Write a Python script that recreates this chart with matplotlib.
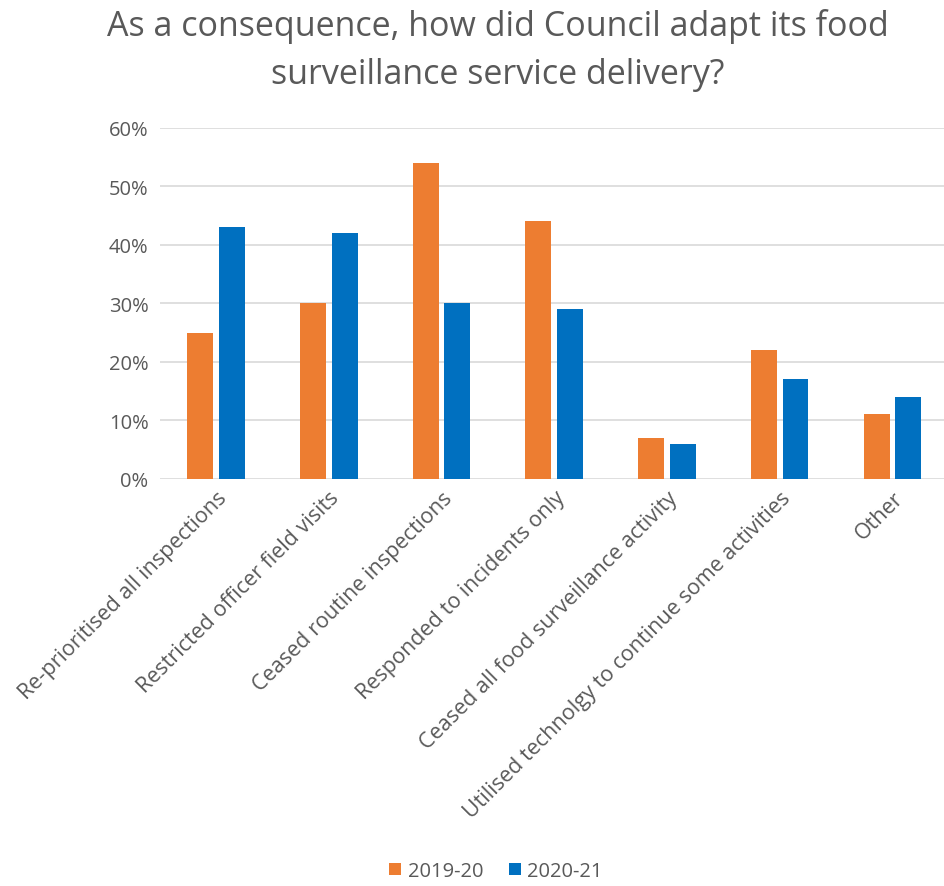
import numpy as np
import matplotlib.pyplot as plt
from matplotlib.ticker import PercentFormatter

plt.rcParams['font.family'] = ['Open Sans', 'DejaVu Sans']

categories = ["Re-prioritised all inspections", "Restricted officer field visits",
              "Ceased routine inspections", "Responded to incidents only",
              "Ceased all food surveillance activity",
              "Utilised technolgy to continue some activities", "Other"]
y2019 = [25, 30, 54, 44, 7, 22, 11]
y2021 = [43, 42, 30, 29, 6, 17, 14]
series = ["2019-20", "2020-21"]

grey = "#595959"
fig = plt.figure(figsize=(9.45, 8.87), dpi=100)
ax = fig.add_axes([0.169, 0.459, 0.835, 0.396])

x = np.arange(len(categories))
w = 0.23
ax.bar(x - 0.14, y2019, w, color="#ED7D31", label=series[0], zorder=3)
ax.bar(x + 0.14, y2021, w, color="#0070C0", label=series[1], zorder=3)

ax.set_ylim(0, 60)
ax.set_xlim(-0.5, len(categories) - 0.5)
ax.set_yticks(range(0, 61, 10))
ax.yaxis.set_major_formatter(PercentFormatter(decimals=0))
ax.grid(axis="y", color="#D9D9D9", linewidth=1.2, zorder=0)
for s in ax.spines.values():
    s.set_visible(False)
ax.tick_params(length=0, labelcolor=grey, labelsize=15.5)
ax.tick_params(axis="y", pad=8, labelsize=14.5)
ax.tick_params(axis="x", pad=6)
ax.set_xticks(x)
ax.set_xticklabels(categories, rotation=45, ha="right", rotation_mode="anchor")

fig.suptitle("As a consequence, how did Council adapt its food\nsurveillance service delivery?",
             x=0.527, y=0.99, fontsize=24.5, color=grey, linespacing=1.55)

fig.legend(loc="lower center", bbox_to_anchor=(0.525, -0.015), ncol=2, frameon=False,
           fontsize=14.5, labelcolor=grey, handlelength=0.6, handleheight=0.6,
           handletextpad=0.3, columnspacing=1.3)

fig.savefig("out.png", dpi=100)
